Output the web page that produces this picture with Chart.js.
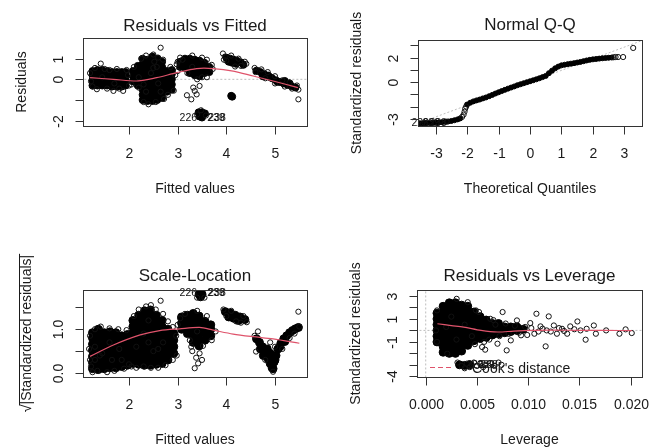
<!DOCTYPE html>
<html><head><meta charset="utf-8">
<script src="https://cdn.jsdelivr.net/npm/chart.js@4.4.1/dist/chart.umd.min.js"></script>
<style>
html,body{margin:0;padding:0;background:#fff;}
body{width:649px;height:448px;overflow:hidden;position:relative;}
canvas{position:absolute;left:0;top:0;}
</style></head>
<body>
<canvas id="p1" width="649" height="448"></canvas>
<canvas id="p2" width="649" height="448"></canvas>
<canvas id="p3" width="649" height="448"></canvas>
<canvas id="p4" width="649" height="448"></canvas>
<script>
// ================= DATA =================
// ---- Panel 1: Residuals vs Fitted ----
const rvfXTicks = [2, 3, 4, 5];
const rvfXTickLabels = ['2', '3', '4', '5'];
const rvfYTicks = [-2, -1, 0, 1];
const rvfYTickLabels = ['-2', '', '0', '1'];
// dense cores: [fitted, [residuals...]]
const rvfDenseCols = [
  [1.25, [-0.3, -0.05, 0.2, 0.4]], [1.35, [-0.3, -0.05, 0.2, 0.45]], [1.45, [-0.3, -0.05, 0.2, 0.45]],
  [1.55, [-0.3, -0.05, 0.2, 0.4]], [1.65, [-0.35, -0.1, 0.15, 0.35]], [1.75, [-0.35, -0.1, 0.15, 0.35]],
  [1.85, [-0.35, -0.1, 0.15, 0.35]], [1.93, [-0.3, -0.05, 0.2, 0.35]],
  [2.08, [-0.1, 0.15, 0.4]], [2.18, [-0.3, -0.05, 0.2, 0.45, 0.65]],
  [2.28, [-1.0, -0.75, -0.5, -0.25, 0, 0.25, 0.5, 0.75, 1.0]],
  [2.38, [-1.05, -0.8, -0.55, -0.3, -0.05, 0.2, 0.45, 0.7, 0.95]],
  [2.48, [-1.05, -0.8, -0.55, -0.3, -0.05, 0.2, 0.45, 0.7, 0.95, 1.1]],
  [2.58, [-1.0, -0.75, -0.5, -0.25, 0, 0.25, 0.5, 0.75, 1.0]],
  [2.68, [-0.9, -0.65, -0.4, -0.15, 0.1, 0.35, 0.6, 0.85]],
  [2.78, [-0.6, -0.35, -0.1, 0.15, 0.4]], [2.88, [-0.5, -0.25, 0, 0.25, 0.45]],
  [3.05, [0.6, 0.85]], [3.15, [0.55, 0.8, 1.0]], [3.25, [0.3, 0.55, 0.8, 1.0]],
  [3.35, [0.2, 0.45, 0.7, 0.95]], [3.45, [0.15, 0.4, 0.65, 0.9]], [3.55, [0.3, 0.55, 0.8]], [3.65, [0.35, 0.6]],
  [3.43, [-1.6]], [3.5, [-1.6, -1.85]], [3.56, [-1.65]], [3.45, [-1.8]],
  [4.1, [-0.8]], [4.12, [-0.84]],
  [4.0, [1.05]], [4.08, [1.0]], [4.15, [0.95]], [4.22, [0.9]], [4.3, [0.82]], [4.05, [0.85]], [4.12, [0.8]], [4.2, [0.75]], [4.35, [0.7]],
  [4.62, [0.42]], [4.7, [0.35]], [4.78, [0.25]], [4.86, [0.18]], [4.94, [0.05]], [5.02, [-0.05]], [5.1, [-0.13]],
  [5.18, [-0.2]], [5.26, [-0.27]], [5.34, [-0.33]], [5.42, [-0.4]], [4.75, [0.15]], [4.9, [0.1]], [5.05, [-0.12]], [5.2, [-0.08]], [5.3, [-0.2]]
];
const rvfPoints = [
  [1.2,0.3],[1.22,-0.1],[1.3,0.55],[1.42,0.76],[1.34,-0.48],[1.5,0.5],[1.6,0.45],[1.68,-0.56],[1.75,0.5],[1.88,-0.56],
  [1.95,0.45],[1.8,-0.45],[1.55,-0.45],[1.25,-0.35],[2.0,-0.3],[1.98,0.2],
  [2.65,1.53],[2.40,-1.21],[2.98,0.73],[2.1,0.6],[2.05,-0.25],[2.2,-0.4],[2.25,1.0],[2.35,1.15],[2.5,1.2],[2.6,1.05],
  [2.7,0.95],[2.72,-0.95],[2.55,-1.1],[2.3,-1.1],[2.85,0.6],[2.92,-0.55],[2.95,0.2],[2.8,-0.75],[2.5,0.55],[2.57,0.6],[2.3,-0.25],
  [2.45,0.3],[2.35,-0.6],[2.6,-0.2],[2.52,0.85],[1.45,0.1],[1.7,-0.2],[3.3,0.6],[2.2,0.1],[2.65,-0.6],
  [3.0,0.85],[3.05,1.05],[3.1,0.95],[3.3,1.15],[3.5,1.05],[3.6,0.95],[3.7,0.7],[3.72,0.5],[3.6,0.1],[3.4,0.0],[3.2,0.3],
  [3.19,-0.77],[3.28,-0.97],[3.35,-0.56],[3.45,-0.32],[3.39,-0.73],[3.32,-0.4],[3.0,0.4],[3.5,0.1],
  [3.4,-1.7],[3.58,-1.75],[3.48,-1.5],
  [3.93,1.25],[3.97,1.1],[4.1,1.15],[4.25,1.0],[4.41,0.75],[4.3,0.65],[4.18,0.62],[4.0,0.9],[3.95,0.95],[4.38,0.85],
  [4.58,0.55],[4.6,0.35],[4.72,0.48],[4.85,0.35],[5.0,0.15],[5.15,-0.05],[5.3,-0.15],[5.45,-0.3],[5.48,-0.5],
  [5.35,-0.45],[5.2,-0.35],[5.0,-0.2],[4.8,0.05],[5.48,-0.97]
];
const rvfSmooth = [[1.2,0.08],[1.68,0.0],[2.19,-0.08],[2.57,0.08],[2.98,0.32],[3.39,0.52],[3.73,0.52],[4.14,0.40],[4.55,0.16],[4.96,-0.08],[5.47,-0.40]];
const rvfIds = [[3.22,-1.9,'226'],[3.79,-1.9,'239'],[3.81,-1.9,'238']];

// ---- Panel 2: Normal Q-Q ----
const qqXTicks = [-3, -2, -1, 0, 1, 2, 3];
const qqXTickLabels = ['-3', '-2', '-1', '0', '1', '2', '3'];
const qqYTicks = [-3, -2, -1, 0, 1, 2, 3];
const qqYTickLabels = ['-3', '', '', '0', '', '2', ''];
const qqDense = [
  [-3.5,-3.37],[-3.4,-3.36],[-3.3,-3.35],[-3.2,-3.34],[-3.1,-3.33],[-3.0,-3.32],[-2.9,-3.30],[-2.8,-3.28],[-2.7,-3.25],
  [-2.6,-3.22],[-2.5,-3.18],[-2.4,-3.12],[-2.3,-3.05],[-2.22,-2.97],
  [-2.0,-1.84],[-1.9,-1.69],[-1.8,-1.58],[-1.7,-1.50],[-1.6,-1.43],[-1.5,-1.34],[-1.4,-1.26],[-1.3,-1.16],[-1.2,-1.05],
  [-1.1,-0.94],[-1.0,-0.84],[-0.9,-0.74],[-0.8,-0.64],[-0.7,-0.54],[-0.6,-0.45],[-0.5,-0.36],[-0.4,-0.26],[-0.3,-0.18],
  [-0.2,-0.10],[-0.1,-0.02],[0,0.06],[0.1,0.14],[0.2,0.22],[0.3,0.31],[0.4,0.40],[0.5,0.50],[0.6,0.72],[0.7,0.93],
  [0.8,1.12],[0.9,1.26],[1.0,1.36],[1.1,1.41],[1.2,1.46],[1.3,1.50],[1.4,1.54],[1.5,1.59],[1.6,1.64],[1.7,1.70],
  [1.8,1.76],[1.9,1.81],[2.0,1.85],[2.1,1.88],[2.2,1.91],[2.3,1.94],[2.4,1.96],[2.5,1.98],[2.6,2.0]
];
const qqPoints = [[-2.16,-2.85],[-2.11,-2.66],[-2.08,-2.42],[-2.06,-2.18],[-2.03,-2.0],[2.66,2.02],[2.72,2.04],[2.8,2.04],
  [2.96,2.04],[3.28,2.78],[-3.56,-3.38],[-3.35,-3.36],[-2.65,-3.24]];
const qqLine = [[-3.7,-3.515],[3.7,3.515]];
const qqIds = [[-3.49,-3.35,'226'],[-3.14,-3.35,'239'],[-2.92,-3.35,'238']];

// ---- Panel 3: Scale-Location ----
const slXTicks = [2, 3, 4, 5];
const slXTickLabels = ['2', '3', '4', '5'];
const slYTicks = [0, 0.5, 1.0, 1.5];
const slYTickLabels = ['0.0', '', '1.0', ''];
const slDenseCols = [
  [1.25, [0.1,0.24,0.38,0.52,0.66,0.8,0.92]], [1.37, [0.08,0.22,0.36,0.5,0.64,0.78,0.92,1.0]],
  [1.49, [0.1,0.24,0.38,0.52,0.66,0.8,0.92]], [1.61, [0.12,0.26,0.4,0.54,0.68,0.82,0.94]],
  [1.73, [0.12,0.26,0.4,0.54,0.68,0.82,0.92]], [1.85, [0.15,0.29,0.43,0.57,0.71,0.85]],
  [1.97, [0.18,0.32,0.46,0.6,0.74,0.88]],
  [2.08, [0.22,0.36,0.5,0.64,0.78,0.92,1.06,1.2]], [2.2, [0.2,0.34,0.48,0.62,0.76,0.9,1.04,1.18,1.32]],
  [2.32, [0.18,0.32,0.46,0.6,0.74,0.88,1.02,1.16,1.3,1.42]], [2.44, [0.18,0.32,0.46,0.6,0.74,0.88,1.02,1.16,1.3,1.44]],
  [2.56, [0.2,0.34,0.48,0.62,0.76,0.9,1.04,1.18,1.32]], [2.68, [0.22,0.36,0.5,0.64,0.78,0.92,1.06,1.2]],
  [2.8, [0.3,0.44,0.58,0.72,0.86,1.0]], [2.92, [0.45,0.6,0.75,0.9]],
  [3.08, [1.0,1.14,1.28]], [3.2, [0.9,1.04,1.18,1.32]], [3.32, [0.7,0.84,0.98,1.12,1.26,1.36]],
  [3.44, [0.62,0.76,0.9,1.04,1.18,1.3]], [3.56, [0.75,0.9,1.04,1.18]], [3.68, [0.85,1.0,1.1]],
  [3.44, [1.8]], [3.5, [1.8]], [3.47, [1.74]],
  [3.98, [1.4]], [4.08, [1.37]], [4.18, [1.32]], [4.28, [1.28]], [4.38, [1.22]], [4.05, [1.28]], [4.15, [1.25]], [4.25, [1.2]],
  [4.62, [0.78]], [4.68, [0.7]], [4.74, [0.6]], [4.78, [0.5]], [4.82, [0.42]], [4.86, [0.32]], [4.9, [0.22, 0.45]],
  [4.94, [0.12]], [4.7, [0.55]], [4.76, [0.4]], [4.84, [0.55]], [4.98, [0.25]], [5.02, [0.4]], [5.06, [0.55]],
  [5.12, [0.68]], [5.18, [0.78]], [5.24, [0.85]], [5.3, [0.92]], [5.36, [0.97]], [5.42, [1.01]], [5.48, [1.04]],
  [5.1, [0.6]], [5.2, [0.72]], [4.96, [0.1]], [5.0, [0.3]]
];
const slPoints = [
  [1.18,0.55],[1.2,0.3],[1.22,0.15],[1.25,0.02],[1.3,1.0],[1.42,1.06],[1.55,0.02],[1.6,1.02],[1.7,0.05],[1.78,1.0],
  [1.9,0.1],[1.95,0.98],[2.0,0.2],[1.3,0.6],[1.45,0.45],[1.65,0.3],[1.8,0.55],[1.2,0.85],[1.35,0.05],
  [1.4,0.4],[1.6,0.7],[1.85,0.3],[2.3,0.9],[2.5,0.5],[2.4,1.2],[2.7,0.7],[3.4,0.95],[1.3,0.3],[2.15,0.6],
  [2.05,0.15],[2.1,1.3],[2.2,1.45],[2.35,1.52],[2.45,1.55],[2.55,1.45],[2.65,1.65],[2.7,1.35],[2.8,1.18],[2.9,1.05],
  [2.97,0.85],[2.98,0.4],[2.9,0.3],[2.75,0.18],[2.6,0.12],[2.45,0.12],[2.3,0.15],[2.15,0.12],[2.4,0.7],[2.6,0.55],
  [3.35,0.11],[3.38,0.35],[3.3,0.5],[3.45,0.45],[3.28,0.6],[3.5,0.3],[3.15,1.35],[3.05,1.25],[3.7,0.75],[3.78,0.95],
  [3.0,1.1],[3.6,1.3],[3.4,1.42],[3.25,0.75],[3.52,0.62],[3.42,0.22],
  [3.4,1.72],[3.55,1.72],
  [3.94,1.45],[4.0,1.3],[4.1,1.42],[4.42,1.16],[4.3,1.15],[4.35,1.3],[4.2,1.18],
  [4.58,0.85],[4.61,0.49],[4.96,0.03],[5.48,1.40],[5.0,0.6],[4.9,0.7],[5.3,0.8],[5.5,1.06],[4.65,0.95],[4.8,0.3],[5.15,0.55],[5.4,0.9]
];
const slSmooth = [[1.2,0.38],[1.68,0.64],[2.23,0.87],[2.63,0.97],[3.04,1.01],[3.45,1.04],[3.73,0.98],[4.14,0.89],[4.55,0.83],[4.96,0.78],[5.5,0.68]];
const slIds = [[3.22,1.83,'226'],[3.79,1.83,'239'],[3.81,1.83,'238']];

// ---- Panel 4: Residuals vs Leverage ----
const rvlXTicks = [0, 0.005, 0.010, 0.015, 0.020];
const rvlXTickLabels = ['0.000', '0.005', '0.010', '0.015', '0.020'];
const rvlYTicks = [-4, -3, -2, -1, 0, 1, 2, 3];
const rvlYTickLabels = ['-4', '', '', '-1', '', '1', '', '3'];
const rvlDenseCols = [
  [0.0011, [-1.0,-0.5,0,0.5,1.0,1.5]], [0.0017, [-1.9,-1.4,-0.9,-0.4,0.1,0.6,1.1,1.6,2.1]],
  [0.0023, [-2.0,-1.5,-1.0,-0.5,0,0.5,1.0,1.5,2.0,2.4]], [0.0029, [-2.0,-1.5,-1.0,-0.5,0,0.5,1.0,1.5,2.0,2.4]],
  [0.0035, [-1.8,-1.3,-0.8,-0.3,0.2,0.7,1.2,1.7,2.2]], [0.0041, [-1.3,-0.8,-0.3,0.2,0.7,1.2,1.7,2.1]],
  [0.0047, [-0.9,-0.4,0.1,0.6,1.1,1.6]], [0.0053, [-0.7,-0.2,0.3,0.8,1.2]], [0.0059, [-0.6,-0.1,0.4,0.9]],
  [0.0065, [-0.4,0.1,0.6]], [0.0071, [-0.3,0.2,0.6]], [0.0077, [-0.2,0.3]], [0.0083, [-0.1,0.3]], [0.0089, [0.0,0.3]], [0.0095, [0.1]],
  [0.0033, [-3.0]], [0.0038, [-3.05]], [0.0043, [-3.0]]
];
const rvlPoints = [
  [0.00302,2.75],[0.0108,1.45],[0.0120,1.22],[0.0148,0.78],[0.0164,0.43],[0.0176,0.0],[0.0189,-0.29],[0.0195,0.09],
  [0.0201,-0.23],[0.0156,-0.81],[0.0117,-1.39],[0.0166,-0.29],[0.0079,-1.74],[0.0058,-1.68],[0.0049,1.74],[0.0075,1.6],
  [0.0089,0.87],[0.0102,0.64],[0.0112,0.35],[0.0125,0.43],[0.0133,0.14],[0.0138,-0.29],[0.0141,0.35],[0.0151,0],
  [0.0157,0.14],[0.0128,-0.29],[0.0118,0],[0.0106,-0.29],[0.0093,-0.43],[0.0083,-0.87],[0.007,-1.16],[0.0063,1.01],
  [0.0055,-1.45],[0.0041,2.46],[0.0011,1.74],[0.0011,-1.0],[0.001,0],[0.0021,-2.03],
  [0.0025,1.2],[0.003,-0.8],[0.0038,0.5],[0.002,0.3],[0.0045,-0.5],
  [0.0031,-2.8],[0.0035,-3.1],[0.004,-2.9],[0.0043,-3.2],[0.0047,-2.8],[0.005,-3.1],[0.0053,-2.9],[0.0058,-3.0],
  [0.0063,-2.85],[0.0067,-3.1],[0.0071,-2.8],[0.0074,-3.0],[0.0038,-3.3],[0.0045,-3.0],[0.0056,-3.2],
  [0.0068,0.5],[0.0072,-0.5],[0.0078,0.6],[0.0081,-0.3],[0.0087,0.4],[0.0091,-0.2],[0.0097,0.3],[0.0099,-0.4],
  [0.0103,0.2],[0.011,-0.1],[0.0114,0.15],[0.0122,-0.1],[0.013,0.2],[0.0135,-0.05],[0.0145,0.1],[0.0062,-0.8],
  [0.0066,0.9],[0.0052,1.6],[0.0057,-1.0],[0.0048,-1.2]
];
const rvlSmooth = [[0.00114,0.58],[0.0025,0.42],[0.0037,0.29],[0.0054,0.0],[0.0070,-0.14],[0.0086,-0.06],[0.0105,0.0],[0.0125,0.02],[0.0150,0.0],[0.0175,0.0],[0.0201,-0.02]];
const rvlIds = [[0.00481,-3.04,'226'],[0.00588,-3.04,'239'],[0.00617,-3.04,'238']];

// ================= RENDERING =================
const W = 649, H = 448;
const FONT = '"Liberation Sans", Arial, Helvetica, sans-serif';
const RED = '#DF536B';

const toXY = arr => arr.map(p => ({x: p[0], y: p[1]}));
const fromCols = arr => { const out = []; arr.forEach(c => c[1].forEach(v => out.push({x: c[0], y: v}))); return out; };

const hollow = d => ({data: d, showLine: false, pointRadius: 2.6, pointBorderWidth: 1, pointBorderColor: '#111',
  pointBackgroundColor: 'rgba(0,0,0,0)', order: 2, clip: 0});
const dense = (d, r) => ({data: d, showLine: false, pointRadius: r, pointBorderWidth: 1, pointBorderColor: '#000',
  pointBackgroundColor: '#000', order: 3, clip: 0});
const smoothLine = d => ({data: d, showLine: true, pointRadius: 0, borderColor: RED, borderWidth: 1.2,
  tension: 0.3, fill: false, order: 1, clip: 0});
const refLine = d => ({data: d, showLine: true, pointRadius: 0, borderColor: '#BEBEBE', borderWidth: 1,
  borderDash: [2, 2], fill: false, order: 4, clip: 0});

function framePlugin(o) {
  return {
    id: 'rframe',
    afterDatasetsDraw(chart) {
      const {ctx, scales: {x, y}} = chart;
      if (!o.ids) return;
      ctx.save();
      ctx.fillStyle = '#111';
      ctx.font = '10.5px ' + FONT;
      ctx.textAlign = 'center';
      ctx.textBaseline = 'middle';
      o.ids.forEach(p => ctx.fillText(p[2], x.getPixelForValue(p[0]), y.getPixelForValue(p[1])));
      ctx.restore();
    },
    afterDraw(chart) {
      const {ctx, chartArea: a, scales: {x, y}} = chart;
      const L = Math.round(a.left) + 0.5, R = Math.round(a.right) + 0.5;
      const T = Math.round(a.top) + 0.5, B = Math.round(a.bottom) + 0.5;
      ctx.save();
      ctx.setLineDash([]);
      ctx.strokeStyle = '#333';
      ctx.lineWidth = 1;
      ctx.strokeRect(L, T, R - L, B - T);
      const xs = o.xTicks.map(v => Math.round(x.getPixelForValue(v)) + 0.5);
      const ys = o.yTicks.map(v => Math.round(y.getPixelForValue(v)) + 0.5);
      ctx.beginPath();
      xs.forEach(px => { ctx.moveTo(px, B); ctx.lineTo(px, B + 8); });
      ys.forEach(py => { ctx.moveTo(L, py); ctx.lineTo(L - 8, py); });
      ctx.stroke();
      ctx.fillStyle = '#1a1a1a';
      ctx.font = '14px ' + FONT;
      ctx.textAlign = 'center';
      ctx.textBaseline = 'middle';
      xs.forEach((px, i) => { if (o.xTickLabels[i]) ctx.fillText(o.xTickLabels[i], px, a.bottom + 28); });
      ys.forEach((py, i) => {
        if (!o.yTickLabels[i]) return;
        ctx.save(); ctx.translate(a.left - 24, py); ctx.rotate(-Math.PI / 2);
        ctx.fillText(o.yTickLabels[i], 0, 0); ctx.restore();
      });
      const cx = (a.left + a.right) / 2, cy = (a.top + a.bottom) / 2;
      ctx.fillText(o.xTitle, cx, a.bottom + 63);
      ctx.save();
      ctx.translate(a.left - o.yTitleOff, cy);
      ctx.rotate(-Math.PI / 2);
      if (o.sqrt) {
        const txt = '|' + o.yTitle + '|';
        const w = ctx.measureText(txt).width;
        const rw = ctx.measureText('\u221A').width;
        const start = -(w + rw) / 2;
        ctx.textAlign = 'left';
        ctx.fillText('\u221A', start, 0);
        ctx.fillText(txt, start + rw, 0);
        ctx.strokeStyle = '#1a1a1a';
        ctx.beginPath();
        ctx.moveTo(start + rw - 1, -7.5); ctx.lineTo(start + rw + w + 1, -7.5);
        ctx.stroke();
      } else {
        ctx.fillText(o.yTitle, 0, 0);
      }
      ctx.restore();
      ctx.font = '17px ' + FONT;
      ctx.fillText(o.title, cx, o.titleY);
      if (o.legend) {
        ctx.strokeStyle = RED;
        ctx.lineWidth = 1.2;
        ctx.setLineDash([5, 3]);
        ctx.beginPath();
        ctx.moveTo(a.left + 13, a.bottom - 9.5); ctx.lineTo(a.left + 37, a.bottom - 9.5);
        ctx.stroke();
        ctx.setLineDash([]);
        ctx.font = '14px ' + FONT;
        ctx.textAlign = 'left';
        ctx.fillStyle = '#1a1a1a';
        ctx.fillText(o.legend, a.left + 55, a.bottom - 8);
      }
      ctx.restore();
    }
  };
}

function makePanel(id, box, xr, yr, datasets, deco) {
  return new Chart(document.getElementById(id), {
    type: 'scatter',
    data: {datasets},
    options: {
      responsive: false, animation: false, devicePixelRatio: 1, events: [],
      layout: {padding: {left: box[0], top: box[1], right: W - box[2], bottom: H - box[3]}},
      plugins: {legend: {display: false}, tooltip: {enabled: false}, title: {display: false}},
      scales: {
        x: {type: 'linear', min: xr[0], max: xr[1], display: false},
        y: {type: 'linear', min: yr[0], max: yr[1], display: false}
      }
    },
    plugins: [framePlugin(deco)]
  });
}

makePanel('p1', [83, 38, 307, 126], [1.055, 5.657], [-2.26, 2.0], [
  smoothLine(toXY(rvfSmooth)),
  hollow(toXY(rvfPoints)),
  dense(fromCols(rvfDenseCols), 3.5),
  refLine([{x: 1.0, y: 0}, {x: 5.7, y: 0}])
], {title: 'Residuals vs Fitted', titleY: 26.5, xTicks: rvfXTicks, xTickLabels: rvfXTickLabels,
    yTicks: rvfYTicks, yTickLabels: rvfYTickLabels, xTitle: 'Fitted values', yTitle: 'Residuals', yTitleOff: 61, ids: rvfIds});

makePanel('p2', [418, 40, 642, 126], [-3.56, 3.56], [-3.59, 3.43], [
  hollow(toXY(qqPoints)),
  dense(toXY(qqDense), 2.5),
  refLine(toXY(qqLine))
], {title: 'Normal Q-Q', titleY: 25.5, xTicks: qqXTicks, xTickLabels: qqXTickLabels,
    yTicks: qqYTicks, yTickLabels: qqYTickLabels, xTitle: 'Theoretical Quantiles', yTitle: 'Standardized residuals', yTitleOff: 61, ids: qqIds});

makePanel('p3', [83, 290, 307, 377], [1.055, 5.657], [-0.09, 1.895], [
  smoothLine(toXY(slSmooth)),
  hollow(toXY(slPoints)),
  dense(fromCols(slDenseCols), 4)
], {title: 'Scale-Location', titleY: 276.5, xTicks: slXTicks, xTickLabels: slXTickLabels,
    yTicks: slYTicks, yTickLabels: slYTickLabels, xTitle: 'Fitted values', yTitle: 'Standardized residuals', yTitleOff: 56, sqrt: true, ids: slIds});

makePanel('p4', [417, 290, 642, 377], [-0.00085, 0.0211], [-4.06, 3.52], [
  smoothLine(toXY(rvlSmooth)),
  hollow(toXY(rvlPoints)),
  dense(fromCols(rvlDenseCols), 4),
  refLine([{x: -0.001, y: 0}, {x: 0.0212, y: 0}]),
  refLine([{x: 0, y: -4.1}, {x: 0, y: 3.6}])
], {title: 'Residuals vs Leverage', titleY: 276.5, xTicks: rvlXTicks, xTickLabels: rvlXTickLabels,
    yTicks: rvlYTicks, yTickLabels: rvlYTickLabels, xTitle: 'Leverage', yTitle: 'Standardized residuals', yTitleOff: 61,
    ids: rvlIds, legend: "Cook's distance"});
</script>
</body></html>
